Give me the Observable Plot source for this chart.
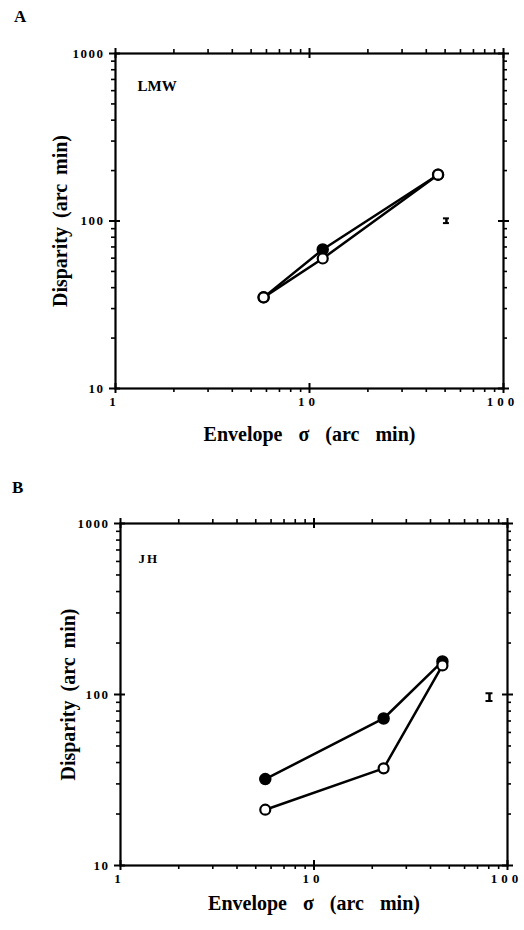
<!DOCTYPE html>
<html>
<head>
<meta charset="utf-8">
<script src="https://cdn.jsdelivr.net/npm/d3@7"></script>
<script src="https://cdn.jsdelivr.net/npm/@observablehq/plot@0.6"></script>
<style>
  body { margin: 0; background: white; }
  #wrap { position: relative; width: 524px; height: 930px; background: white; overflow: hidden; }
  .panel { position: absolute; left: 0; }
  .letter { position: absolute; font-family: "Liberation Serif", serif; font-weight: bold; font-size: 17px; color: black; }
  svg text { font-family: "Liberation Serif", serif !important; }
</style>
</head>
<body>
<div id="wrap">
  <div id="pA" class="panel" style="top:0px;"></div>
  <div id="pB" class="panel" style="top:465px;"></div>
  <div class="letter" style="left:14px; top:7px;">A</div>
  <div class="letter" style="left:12px; top:478px;">B</div>
</div>
<script>
// ---- data ----
const xMajor = [1, 10, 100];
const xMinor = [2, 3, 4, 5, 6, 7, 8, 9, 20, 30, 40, 50, 60, 70, 80, 90];
const yMajor = [10, 100, 1000];
const yMinor = [20, 30, 40, 50, 60, 70, 80, 90, 200, 300, 400, 500, 600, 700, 800, 900];

const xTitle = "Envelope σ (arc min)";
const yTitle = "Disparity (arc min)";

// Panel A: LMW
const sigmaA = [5.8, 11.7, 46];
const lmwFilled = [35, 67.6, 189];
const lmwOpen = [35, 59.7, 189];
const errAx = [50.8];
const errAlo = [96.5];
const errAhi = [103];

// Panel B: JH
const sigmaB = [5.6, 22.9, 46.1];
const jhFilled = [32, 72.4, 156];
const jhOpen = [21.2, 37, 148];
const errBx = [80.7];
const errBlo = [91];
const errBhi = [101];

const FONT = "'Liberation Serif', serif";

function panel({name, sigma, filled, open, ex, elo, ehi, mL, mR, mT, mB, nameDx, nameDy, nameSize, nameLs, xtDy, ytDx, capW}) {
  const W = 524, H = 465;
  const fw = W - mL - mR, fh = H - mT - mB;
  const fil = sigma.map((s, i) => ({x: s, y: filled[i]}));
  const opn = sigma.map((s, i) => ({x: s, y: open[i]}));
  const err = ex.map((x, i) => ({x, lo: elo[i], hi: ehi[i]}));
  const caps = err.flatMap(e => [{x: e.x, y: e.lo}, {x: e.x, y: e.hi}]);
  const tick = {stroke: "black", strokeWidth: 2};
  const txt = {fontFamily: FONT, fontWeight: "bold", fill: "black"};
  const svg = Plot.plot({
    width: W, height: H,
    marginLeft: mL, marginRight: mR, marginTop: mT, marginBottom: mB,
    x: {type: "log", domain: [1, 100]},
    y: {type: "log", domain: [10, 1000]},
    style: {fontFamily: FONT, fontWeight: "bold", fontSize: "13px", color: "black", background: "white"},
    marks: [
      // minor ticks outward
      Plot.ruleX(xMinor, {...tick, strokeWidth: 1.6, insetTop: fh, insetBottom: -4}),
      Plot.ruleX(xMinor, {...tick, strokeWidth: 1.6, insetTop: -4, insetBottom: fh}),
      Plot.ruleY(yMinor, {...tick, strokeWidth: 1.6, insetLeft: -4, insetRight: fw}),
      Plot.ruleY(yMinor, {...tick, strokeWidth: 1.6, insetLeft: fw, insetRight: -4}),
      // major ticks crossing
      Plot.ruleX(xMajor, {...tick, insetTop: fh - 5, insetBottom: -5}),
      Plot.ruleX(xMajor, {...tick, insetTop: -5, insetBottom: fh - 5}),
      Plot.ruleY(yMajor, {...tick, insetLeft: -6, insetRight: fw - 5}),
      Plot.ruleY(yMajor, {...tick, insetLeft: fw - 5, insetRight: -6}),
      Plot.frame({stroke: "black", strokeWidth: 2.2}),
      // tick labels
      Plot.axisX({ticks: xMajor, anchor: "bottom", tickSize: 0, tickPadding: 8, tickFormat: d => String(d), fontSize: 13, fontFamily: FONT, fontWeight: "bold", label: null}),
      Plot.axisY({ticks: yMajor, anchor: "left", tickSize: 0, tickPadding: 11, tickFormat: d => String(d), fontSize: 13, fontFamily: FONT, fontWeight: "bold", label: null}),
      // axis titles
      Plot.text([xTitle], {...txt, frameAnchor: "bottom", textAnchor: "middle", dy: xtDy, fontSize: 20, text: d => d}),
      Plot.text([yTitle], {...txt, frameAnchor: "left", textAnchor: "middle", dx: ytDx, rotate: -90, fontSize: 20, text: d => d}),
      // subject label
      Plot.text([name], {...txt, frameAnchor: "top-left", dx: nameDx, dy: nameDy, textAnchor: "start", fontSize: nameSize, text: d => d}),
      // error bar with caps
      Plot.ruleX(err, {x: "x", y1: "lo", y2: "hi", stroke: "black", strokeWidth: 2.5}),
      Plot.dot(caps, {x: "x", y: "y", r: 0.001, stroke: "none"}),
      // data: filled series
      Plot.line(fil, {x: "x", y: "y", stroke: "black", strokeWidth: 2.5}),
      Plot.dot(fil, {x: "x", y: "y", r: 5.5, fill: "black", stroke: "black", strokeWidth: 1.5}),
      // data: open series
      Plot.line(opn, {x: "x", y: "y", stroke: "black", strokeWidth: 2.5}),
      Plot.dot(opn, {x: "x", y: "y", r: 5, fill: "white", stroke: "black", strokeWidth: 2.2})
    ]
  });
  const s = d3.select(svg);
  s.selectAll('g[aria-label="x-axis tick label"] text').style("letter-spacing", "4px").attr("dx", -1);
  s.selectAll('g[aria-label="y-axis tick label"] text').style("letter-spacing", "1.5px");
  s.selectAll("text").filter(function() { return this.textContent === xTitle; }).style("word-spacing", "11px");
  s.selectAll("text").filter(function() { return this.textContent === yTitle; }).style("word-spacing", "4px");
  s.selectAll("text").filter(function() { return this.textContent === name; }).style("letter-spacing", nameLs + "px");
  // error-bar caps, positioned through the plot's own scales
  const sx = svg.scale("x"), sy = svg.scale("y");
  const g = s.append("g").attr("aria-label", "error caps");
  caps.forEach(c => {
    const px = sx.apply(c.x), py = sy.apply(c.y);
    g.append("line").attr("x1", px - capW / 2).attr("x2", px + capW / 2)
      .attr("y1", py).attr("y2", py).attr("stroke", "black").attr("stroke-width", 2);
  });
  return svg;
}

const A = panel({name: "LMW", sigma: sigmaA, filled: lmwFilled, open: lmwOpen, ex: errAx, elo: errAlo, ehi: errAhi,
  mL: 115, mR: 21, mT: 53, mB: 77, nameDx: 22, nameDy: 27, nameSize: 15, nameLs: 0, xtDy: 52, ytDx: -55, capW: 6});
document.getElementById("pA").appendChild(A);

const B = panel({name: "JH", sigma: sigmaB, filled: jhFilled, open: jhOpen, ex: errBx, elo: errBlo, ehi: errBhi,
  mL: 120, mR: 17, mT: 58, mB: 65, nameDx: 18, nameDy: 30, nameSize: 13, nameLs: 2, xtDy: 44, ytDx: -52, capW: 7});
document.getElementById("pB").appendChild(B);
</script>
</body>
</html>
